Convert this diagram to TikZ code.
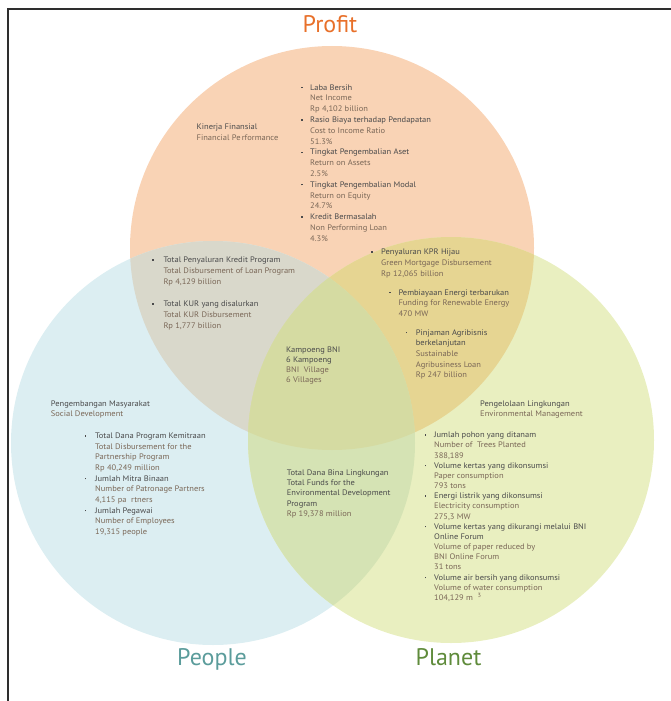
\documentclass[tikz,border=0pt]{standalone}
\usepackage{fontspec}
\setmainfont{PT Sans}
\newfontfamily\bodyfont[FakeStretch=1.06]{PT Sans}
\usetikzlibrary{calc}

% region fills
\definecolor{fProfit}{HTML}{F9D3B5}
\definecolor{fPeople}{HTML}{DCEEF2}
\definecolor{fPlanet}{HTML}{E9EFC0}
\definecolor{fProPeo}{HTML}{D9D8CB}
\definecolor{fProPla}{HTML}{E6D592}
\definecolor{fPeoPla}{HTML}{D5E3B4}
\definecolor{fAll}{HTML}{D5DBA2}
% text colours
\definecolor{idtxt}{HTML}{4A4A4B}
\definecolor{entxt}{HTML}{7A6757}
\definecolor{tProfit}{HTML}{E8702A}
\definecolor{tPeople}{HTML}{5B9C9B}
\definecolor{tPlanet}{HTML}{5F8B3B}
\definecolor{framec}{HTML}{2E2E2E}

\newcommand\bu{\raisebox{1.8pt}{\rule{1.5pt}{1.5pt}}}
\newcommand\en[1]{\textcolor{entxt}{#1}}

\tikzset{
  txt/.style={anchor=base west, inner sep=0pt, text=idtxt,
    font=\bodyfont\fontsize{8}{#1}\selectfont},
  txt/.default=10.8,
  title/.style={anchor=base, inner sep=0pt, font=\fontsize{24}{28}\selectfont},
}

\begin{document}
\begin{tikzpicture}[x=1pt,y=-1pt]
\useasboundingbox (0,0) rectangle (671,701);

\coordinate (cPro) at (332,248);
\coordinate (cPeo) at (213,443);
\coordinate (cPla) at (451,440);
\def\rPro{202pt}
\def\rPeo{202pt}
\def\rPla{203pt}

% single circles
\fill[fProfit] (cPro) circle (\rPro);
\fill[fPeople] (cPeo) circle (\rPeo);
\fill[fPlanet] (cPla) circle (\rPla);
% pairwise overlaps
\begin{scope}
  \clip (cPro) circle (\rPro);
  \fill[fProPeo] (cPeo) circle (\rPeo);
  \fill[fProPla] (cPla) circle (\rPla);
\end{scope}
\begin{scope}
  \clip (cPeo) circle (\rPeo);
  \fill[fPeoPla] (cPla) circle (\rPla);
\end{scope}
% triple overlap
\begin{scope}
  \clip (cPro) circle (\rPro);
  \clip (cPeo) circle (\rPeo);
  \fill[fAll] (cPla) circle (\rPla);
\end{scope}

% frame
\coordinate (fb) at (8,701);
\coordinate (fc) at (8,9);
\coordinate (fr) at (671,9);
\draw[framec, line width=1.3pt] (fb) -- (fc) -- (fr);

% titles
\node[title, text=tProfit] (tPro) at (330,33) {Profit};
\node[title, text=tPeople] (tPeo) at (212,665) {People};
\node[title, text=tPlanet] (tPla) at (448.5,665) {Planet};

% Profit
\node[txt] (kin) at (196.5,129.5) {\begin{tabular}[t]{@{}l@{}}
Kinerja Finansial\\ \en{Financial Pe\hspace{1.2pt}rformance}\end{tabular}};

\node[txt] (fin) at (301,90) {\begin{tabular}[t]{@{}p{9pt}@{}l@{}}
\bu & Laba Bersih\\ & \en{Net Income}\\ & \en{Rp 4,102 billion}\\
\bu & Rasio Biaya terhadap Pendapatan\\ & \en{Cost to Income Ratio}\\ & \en{51.3\%}\\
\bu & Tingkat Pengembalian Aset\\ & \en{Return on Assets}\\ & \en{2.5\%}\\
\bu & Tingkat Pengembalian Modal\\ & \en{Return on Equity}\\ & \en{24.7\%}\\
\bu & Kredit Bermasalah\\ & \en{Non Performing Loan}\\ & \en{4.3\%}
\end{tabular}};

% Profit & People
\node[txt=10.9] (loan) at (152,262.7) {\begin{tabular}[t]{@{}p{11.3pt}@{}l@{}}
\bu & Total Penyaluran Kredit Program\\ & \en{Total Disbursement of Loan Program}\\ & \en{Rp 4,129 billion}\\
 & \\
\bu & Total KUR yang disalurkan\\ & \en{Total KUR Disbursement}\\ & \en{Rp 1,777 billion}
\end{tabular}};

% Profit & Planet
\node[txt] (kpr) at (371,254.4) {\begin{tabular}[t]{@{}p{10pt}@{}l@{}}
\bu & Penyaluran KPR Hijau\\ & \en{Green Mortgage Disbursement}\\ & \en{Rp 12,065 billion}
\end{tabular}};
\node[txt] (ene) at (389,295) {\begin{tabular}[t]{@{}p{9.3pt}@{}l@{}}
\bu & Pembiayaan Energi terbarukan\\ & \en{Funding for Renewable Energy}\\ & \en{470 MW}
\end{tabular}};
\node[txt=10.7] (agr) at (405.7,335) {\begin{tabular}[t]{@{}p{10pt}@{}l@{}}
\bu & Pinjaman Agribisnis\\ & berkelanjutan\\ & \en{Sustainable}\\ & \en{Agribusiness Loan}\\ & \en{Rp 247 billion}
\end{tabular}};

% all three
\node[txt=10] (kam) at (286,352.7) {\begin{tabular}[t]{@{}l@{}}
Kampoeng BNI\\ 6 Kampoeng\\ \en{BNI\ \ Village}\\ \en{6 Villages}
\end{tabular}};

% People
\node[txt=10] (soc) at (50.7,406) {\begin{tabular}[t]{@{}l@{}}
Pengembangan Masyarakat\\ \en{Social Development}
\end{tabular}};
\node[txt=10.67] (socl) at (84.3,438.4) {\begin{tabular}[t]{@{}p{10.7pt}@{}l@{}}
\bu & Total Dana Program Kemitraan\\ & \en{Total Disbursement for the}\\ & \en{Partnership Program}\\ & \en{Rp 40,249 million}\\
\bu & Jumlah Mitra Binaan\\ & \en{Number of Patronage Partners}\\ & \en{4,115 pa\ \ rtners}\\
\bu & Jumlah Pegawai\\ & \en{Number of Employees}\\ & \en{19,315 people}
\end{tabular}};

% People & Planet
\node[txt=10.4] (bina) at (286.7,475) {\begin{tabular}[t]{@{}l@{}}
Total Dana Bina Lingkungan\\ Total Funds for the\\ Environmental Development\\ Program\\ \en{Rp 19,378 million}
\end{tabular}};

% Planet
\node[txt=10] (envh) at (480,406) {\begin{tabular}[t]{@{}l@{}}
Pengelolaan Lingkungan\\ \en{Environmental Management}
\end{tabular}};
\node[txt=10.17] (envl) at (424.3,437.7) {\begin{tabular}[t]{@{}p{9.7pt}@{}l@{}}
\bu & Jumlah pohon yang ditanam\\ & \en{Number of\ \ Trees Planted}\\ & \en{388,189}\\
\bu & Volume kertas yang dikonsumsi\\ & \en{Paper consumption}\\ & \en{793 tons}\\
\bu & Energi listrik yang dikonsumsi\\ & \en{Electricity consumption}\\ & \en{275,3 MW}\\
\bu & Volume kertas yang dikurangi melalui BNI\\ & Online Forum\\ & \en{Volume of paper reduced by}\\ & \en{BNI Online Forum}\\ & \en{31 tons}\\
\bu & Volume air bersih yang dikonsumsi\\ & \en{Volume of water consumption}\\ & \en{104,129 m\ \ \textsuperscript{3}}
\end{tabular}};

\end{tikzpicture}
\end{document}
